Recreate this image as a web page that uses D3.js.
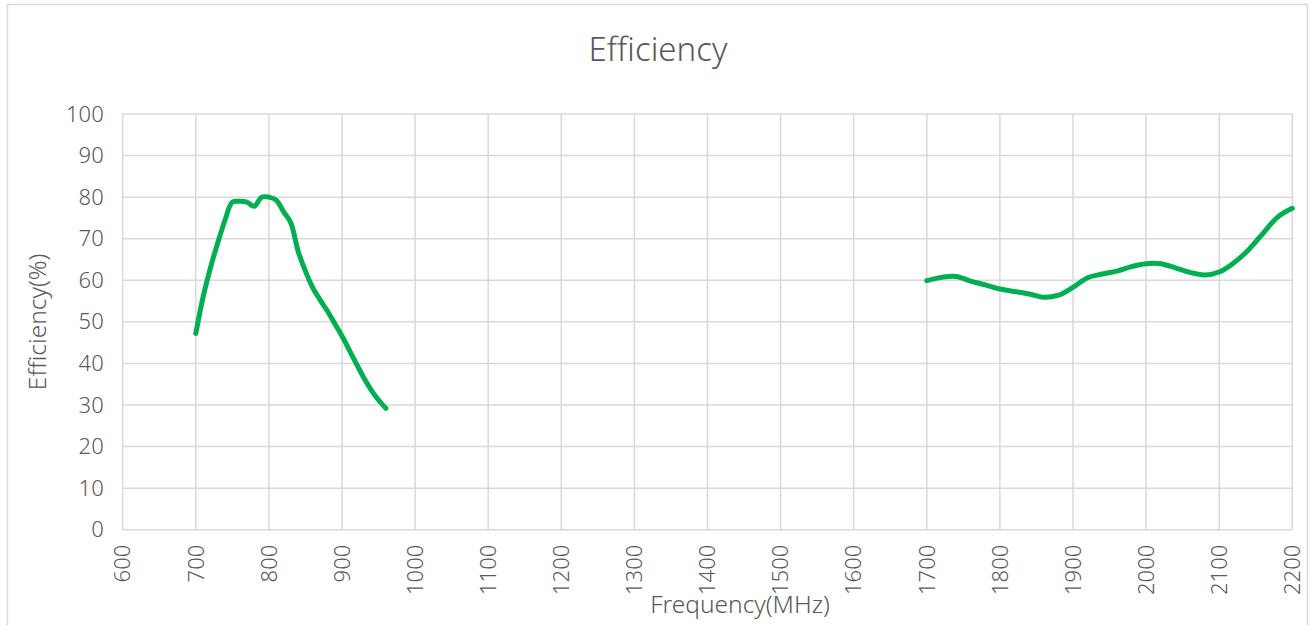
<!DOCTYPE html>
<html><head><meta charset="utf-8">
<script src="https://d3js.org/d3.v7.min.js"></script>
<style>body{margin:0;background:#fff;}svg{display:block;}</style>
</head><body>
<script>
const xTicks = d3.range(600, 2201, 100);
const yTicks = d3.range(0, 101, 10);
const band1Freq = [700,710,720,730,740,750,760,770,780,790,800,810,820,830,840,850,860,870,880,890,900,910,920,930,940,950,960];
const band1Eff  = [47.2,56,63,69,74.5,78.8,79,78.8,77.8,80,80,79.3,76.5,73.8,67,62.2,58.2,55.3,52.6,49.6,46.6,43.2,39.8,36.5,33.6,31.2,29.2];
const band2Freq = [1700,1720,1740,1760,1780,1800,1820,1840,1860,1880,1900,1920,1940,1960,1980,2000,2020,2040,2060,2080,2100,2120,2140,2160,2180,2200];
const band2Eff  = [59.9,60.7,60.9,59.8,58.9,57.9,57.3,56.7,55.9,56.4,58.3,60.6,61.5,62.2,63.3,64.0,64.0,63.0,61.9,61.3,62.0,64.2,67.3,71.3,75.2,77.3];

const W = 1312, H = 625;
const svg = d3.select("body").append("svg").attr("width", W).attr("height", H);
const font = "'Noto Sans', sans-serif";
const grey = "#595959", gridC = "#d9d9d9";

svg.append("rect").attr("x",7.5).attr("y",4.5).attr("width",1300).attr("height",640)
  .attr("fill","#fff").attr("stroke",gridC).attr("stroke-width",1.5);

const L = 122.7, R = 1292.3, T = 114, B = 529.7;
const x = d3.scaleLinear().domain([600,2200]).range([L,R]);
const y = d3.scaleLinear().domain([0,100]).range([B,T]);

const g = svg.append("g");
g.append("g").selectAll("line").data(yTicks).join("line")
  .attr("x1",L).attr("x2",R).attr("y1",d=>y(d)).attr("y2",d=>y(d))
  .attr("stroke",gridC).attr("stroke-width",1.5);
g.append("g").selectAll("line").data(xTicks).join("line")
  .attr("y1",T).attr("y2",B).attr("x1",d=>x(d)).attr("x2",d=>x(d))
  .attr("stroke",gridC).attr("stroke-width",1.5);

const yAxis = d3.axisLeft(y).tickValues(yTicks).tickSize(0).tickPadding(19);
const ya = svg.append("g").attr("transform",`translate(${L},0)`).call(yAxis);
ya.select(".domain").remove();
ya.selectAll("text").attr("font-family",font).attr("font-size",22).attr("font-weight",300).attr("fill",grey);

const xa = svg.append("g").attr("transform",`translate(0,${B})`);
xa.selectAll("text").data(xTicks).join("text")
  .attr("transform",d=>`translate(${x(d)},${15}) rotate(-90)`)
  .attr("text-anchor","end").attr("dy","0.35em")
  .attr("font-family",font).attr("font-size",22).attr("font-weight",300).attr("fill",grey)
  .text(d=>d);

const line = d3.line().x(d=>x(d[0])).y(d=>y(d[1])).curve(d3.curveCatmullRom.alpha(0.5));
[[band1Freq,band1Eff],[band2Freq,band2Eff]].forEach(([f,e])=>{
  svg.append("path").datum(f.map((v,i)=>[v,e[i]])).attr("d",line)
    .attr("fill","none").attr("stroke","#00B050").attr("stroke-width",5)
    .attr("stroke-linecap","round").attr("stroke-linejoin","round");
});

svg.append("text").attr("x",658).attr("y",61).attr("text-anchor","middle")
  .attr("font-family",font).attr("font-size",33).attr("font-weight",300).attr("fill",grey).text("Efficiency");
svg.append("text").attr("x",740).attr("y",613).attr("text-anchor","middle")
  .attr("font-family",font).attr("font-size",24.5).attr("font-weight",300).attr("fill",grey).text("Frequency(MHz)");
svg.append("text").attr("transform",`translate(46,${(T+B)/2}) rotate(-90)`).attr("text-anchor","middle")
  .attr("font-family",font).attr("font-size",24.5).attr("font-weight",300).attr("fill",grey).text("Efficiency(%)");
</script>
</body></html>
